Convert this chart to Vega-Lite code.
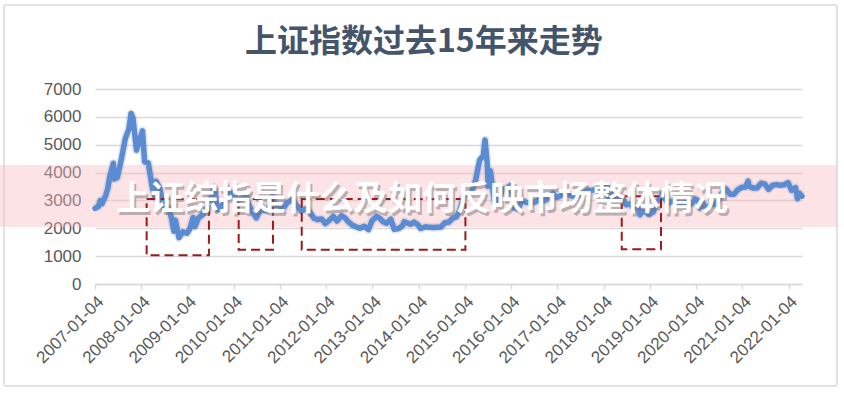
{
  "$schema": "https://vega.github.io/schema/vega-lite/v6.json",
  "width": 707,
  "height": 195,
  "autosize": {"type": "none"},
  "padding": {"left": 95, "top": 89, "right": 42, "bottom": 109},
  "background": "white",
  "config": {"view": {"stroke": null}},
  "datasets": {
    "frame": [{"x1": "2005-01-15", "x2": "2023-01-21", "y1": -3662, "y2": 10015}],
    "band": [{"x1": "2004-12-01", "x2": "2023-01-21", "y1": 2046, "y2": 4272}],
    "heading": [{"date": "2014-02-13", "value": 8690, "text": "上证指数过去15年来走势"}],
    "boxes": [
      {"x1": "2008-02-16", "x2": "2009-06-22", "y1": 1030, "y2": 3051},
      {"x1": "2010-02-12", "x2": "2010-11-10", "y1": 1231, "y2": 3051},
      {"x1": "2011-06-25", "x2": "2015-01-08", "y1": 1231, "y2": 3051},
      {"x1": "2018-05-27", "x2": "2019-04-02", "y1": 1245, "y2": 3150}
    ],
    "label": [{"date": "2014-01-30", "value": 3015, "text": "上证综指是什么及如何反映市场整体情况"}],
    "sse": [
      {"date": "2007-01-04", "close": 2715},
      {"date": "2007-01-31", "close": 2786},
      {"date": "2007-02-15", "close": 2998},
      {"date": "2007-02-28", "close": 2881},
      {"date": "2007-03-30", "close": 3183},
      {"date": "2007-04-16", "close": 3450},
      {"date": "2007-04-30", "close": 3841},
      {"date": "2007-05-29", "close": 4335},
      {"date": "2007-06-05", "close": 3767},
      {"date": "2007-06-29", "close": 3820},
      {"date": "2007-07-31", "close": 4471},
      {"date": "2007-08-31", "close": 5218},
      {"date": "2007-09-28", "close": 5552},
      {"date": "2007-10-16", "close": 6124},
      {"date": "2007-10-31", "close": 5955},
      {"date": "2007-11-28", "close": 4803},
      {"date": "2007-12-28", "close": 5262},
      {"date": "2008-01-14", "close": 5497},
      {"date": "2008-01-31", "close": 4383},
      {"date": "2008-02-29", "close": 4348},
      {"date": "2008-03-31", "close": 3473},
      {"date": "2008-04-22", "close": 3116},
      {"date": "2008-04-30", "close": 3693},
      {"date": "2008-05-30", "close": 3433},
      {"date": "2008-06-30", "close": 2736},
      {"date": "2008-07-31", "close": 2775},
      {"date": "2008-08-29", "close": 2397},
      {"date": "2008-09-18", "close": 1895},
      {"date": "2008-09-30", "close": 2293},
      {"date": "2008-10-28", "close": 1665},
      {"date": "2008-11-28", "close": 1871},
      {"date": "2008-12-31", "close": 1821},
      {"date": "2009-01-23", "close": 1990},
      {"date": "2009-02-17", "close": 2389},
      {"date": "2009-03-03", "close": 2058},
      {"date": "2009-03-31", "close": 2373},
      {"date": "2009-04-30", "close": 2477},
      {"date": "2009-05-27", "close": 2633},
      {"date": "2009-06-30", "close": 2959},
      {"date": "2009-08-04", "close": 3471},
      {"date": "2009-08-31", "close": 2667},
      {"date": "2009-09-30", "close": 2779},
      {"date": "2009-10-30", "close": 2996},
      {"date": "2009-11-24", "close": 3338},
      {"date": "2009-12-31", "close": 3277},
      {"date": "2010-01-29", "close": 2989},
      {"date": "2010-02-26", "close": 3051},
      {"date": "2010-03-31", "close": 3110},
      {"date": "2010-04-15", "close": 3166},
      {"date": "2010-04-30", "close": 2871},
      {"date": "2010-05-31", "close": 2592},
      {"date": "2010-07-02", "close": 2373},
      {"date": "2010-07-30", "close": 2638},
      {"date": "2010-08-31", "close": 2639},
      {"date": "2010-09-30", "close": 2656},
      {"date": "2010-11-08", "close": 3159},
      {"date": "2010-11-30", "close": 2820},
      {"date": "2010-12-31", "close": 2808},
      {"date": "2011-01-25", "close": 2677},
      {"date": "2011-02-28", "close": 2905},
      {"date": "2011-04-18", "close": 3057},
      {"date": "2011-04-29", "close": 2911},
      {"date": "2011-05-31", "close": 2743},
      {"date": "2011-06-20", "close": 2621},
      {"date": "2011-07-29", "close": 2701},
      {"date": "2011-08-31", "close": 2568},
      {"date": "2011-09-30", "close": 2359},
      {"date": "2011-10-24", "close": 2317},
      {"date": "2011-11-30", "close": 2333},
      {"date": "2011-12-28", "close": 2170},
      {"date": "2012-01-31", "close": 2292},
      {"date": "2012-02-29", "close": 2428},
      {"date": "2012-03-30", "close": 2262},
      {"date": "2012-05-04", "close": 2452},
      {"date": "2012-05-31", "close": 2373},
      {"date": "2012-06-29", "close": 2225},
      {"date": "2012-07-31", "close": 2103},
      {"date": "2012-08-31", "close": 2047},
      {"date": "2012-09-26", "close": 2004},
      {"date": "2012-10-31", "close": 2069},
      {"date": "2012-12-03", "close": 1949},
      {"date": "2012-12-31", "close": 2269},
      {"date": "2013-02-06", "close": 2434},
      {"date": "2013-02-28", "close": 2366},
      {"date": "2013-03-29", "close": 2237},
      {"date": "2013-04-26", "close": 2178},
      {"date": "2013-05-29", "close": 2324},
      {"date": "2013-06-25", "close": 1959},
      {"date": "2013-07-31", "close": 1994},
      {"date": "2013-08-30", "close": 2098},
      {"date": "2013-09-12", "close": 2237},
      {"date": "2013-10-31", "close": 2142},
      {"date": "2013-11-29", "close": 2220},
      {"date": "2013-12-31", "close": 2116},
      {"date": "2014-01-20", "close": 1991},
      {"date": "2014-02-28", "close": 2056},
      {"date": "2014-03-31", "close": 2033},
      {"date": "2014-04-30", "close": 2026},
      {"date": "2014-05-30", "close": 2039},
      {"date": "2014-06-30", "close": 2048},
      {"date": "2014-07-31", "close": 2202},
      {"date": "2014-08-29", "close": 2217},
      {"date": "2014-09-30", "close": 2364},
      {"date": "2014-10-31", "close": 2420},
      {"date": "2014-11-28", "close": 2683},
      {"date": "2014-12-31", "close": 3235},
      {"date": "2015-01-30", "close": 3210},
      {"date": "2015-02-27", "close": 3310},
      {"date": "2015-03-31", "close": 3748},
      {"date": "2015-04-30", "close": 4442},
      {"date": "2015-05-29", "close": 4612},
      {"date": "2015-06-12", "close": 5166},
      {"date": "2015-06-30", "close": 4277},
      {"date": "2015-07-08", "close": 3507},
      {"date": "2015-07-24", "close": 4070},
      {"date": "2015-08-26", "close": 2927},
      {"date": "2015-09-30", "close": 3053},
      {"date": "2015-10-30", "close": 3383},
      {"date": "2015-11-30", "close": 3445},
      {"date": "2015-12-31", "close": 3539},
      {"date": "2016-01-28", "close": 2735},
      {"date": "2016-02-29", "close": 2688},
      {"date": "2016-03-31", "close": 3004},
      {"date": "2016-04-29", "close": 2938},
      {"date": "2016-05-31", "close": 2917},
      {"date": "2016-06-30", "close": 2930},
      {"date": "2016-07-29", "close": 2979},
      {"date": "2016-08-31", "close": 3085},
      {"date": "2016-09-30", "close": 3005},
      {"date": "2016-10-31", "close": 3100},
      {"date": "2016-11-30", "close": 3250},
      {"date": "2016-12-30", "close": 3104},
      {"date": "2017-01-26", "close": 3159},
      {"date": "2017-02-28", "close": 3242},
      {"date": "2017-03-31", "close": 3223},
      {"date": "2017-04-28", "close": 3155},
      {"date": "2017-05-31", "close": 3117},
      {"date": "2017-06-30", "close": 3192},
      {"date": "2017-07-31", "close": 3273},
      {"date": "2017-08-31", "close": 3361},
      {"date": "2017-09-29", "close": 3349},
      {"date": "2017-10-31", "close": 3393},
      {"date": "2017-11-30", "close": 3317},
      {"date": "2017-12-29", "close": 3307},
      {"date": "2018-01-29", "close": 3523},
      {"date": "2018-02-09", "close": 3129},
      {"date": "2018-02-28", "close": 3259},
      {"date": "2018-03-30", "close": 3169},
      {"date": "2018-04-27", "close": 3082},
      {"date": "2018-05-31", "close": 3095},
      {"date": "2018-06-29", "close": 2847},
      {"date": "2018-07-31", "close": 2876},
      {"date": "2018-08-31", "close": 2725},
      {"date": "2018-09-28", "close": 2821},
      {"date": "2018-10-18", "close": 2486},
      {"date": "2018-10-31", "close": 2603},
      {"date": "2018-11-30", "close": 2588},
      {"date": "2018-12-28", "close": 2494},
      {"date": "2019-01-31", "close": 2585},
      {"date": "2019-02-28", "close": 2941},
      {"date": "2019-03-29", "close": 3091},
      {"date": "2019-04-19", "close": 3270},
      {"date": "2019-04-30", "close": 3078},
      {"date": "2019-05-31", "close": 2899},
      {"date": "2019-06-28", "close": 2979},
      {"date": "2019-07-31", "close": 2933},
      {"date": "2019-08-30", "close": 2886},
      {"date": "2019-09-30", "close": 2905},
      {"date": "2019-10-31", "close": 2929},
      {"date": "2019-11-29", "close": 2871},
      {"date": "2019-12-31", "close": 3050},
      {"date": "2020-01-23", "close": 2976},
      {"date": "2020-02-03", "close": 2746},
      {"date": "2020-02-28", "close": 2880},
      {"date": "2020-03-23", "close": 2660},
      {"date": "2020-03-31", "close": 2750},
      {"date": "2020-04-30", "close": 2860},
      {"date": "2020-05-29", "close": 2852},
      {"date": "2020-06-30", "close": 2985},
      {"date": "2020-07-31", "close": 3310},
      {"date": "2020-08-31", "close": 3396},
      {"date": "2020-09-30", "close": 3218},
      {"date": "2020-10-30", "close": 3225},
      {"date": "2020-11-30", "close": 3392},
      {"date": "2020-12-31", "close": 3473},
      {"date": "2021-01-29", "close": 3483},
      {"date": "2021-02-18", "close": 3696},
      {"date": "2021-02-26", "close": 3509},
      {"date": "2021-03-31", "close": 3442},
      {"date": "2021-04-30", "close": 3447},
      {"date": "2021-05-31", "close": 3615},
      {"date": "2021-06-30", "close": 3591},
      {"date": "2021-07-30", "close": 3397},
      {"date": "2021-08-31", "close": 3544},
      {"date": "2021-09-30", "close": 3568},
      {"date": "2021-10-29", "close": 3547},
      {"date": "2021-11-30", "close": 3564},
      {"date": "2021-12-31", "close": 3640},
      {"date": "2022-01-28", "close": 3361},
      {"date": "2022-02-28", "close": 3462},
      {"date": "2022-03-15", "close": 3064},
      {"date": "2022-03-31", "close": 3253},
      {"date": "2022-04-20", "close": 3151}
    ]
  },
  "layer": [
    {
      "data": {"name": "frame"},
      "mark": {"type": "rect", "fill": null, "stroke": "#d9d9d9", "strokeWidth": 1.5, "cornerRadius": 2, "clip": false},
      "encoding": {
        "x": {"field": "x1", "type": "temporal", "scale": {"type": "utc", "domain": [{"year": 2007, "month": 1, "date": 4, "utc": true}, {"year": 2022, "month": 4, "date": 20, "utc": true}]},
          "axis": {
            "values": [
              {"year": 2007, "month": 1, "date": 4, "utc": true}, {"year": 2008, "month": 1, "date": 4, "utc": true},
              {"year": 2009, "month": 1, "date": 4, "utc": true}, {"year": 2010, "month": 1, "date": 4, "utc": true},
              {"year": 2011, "month": 1, "date": 4, "utc": true}, {"year": 2012, "month": 1, "date": 4, "utc": true},
              {"year": 2013, "month": 1, "date": 4, "utc": true}, {"year": 2014, "month": 1, "date": 4, "utc": true},
              {"year": 2015, "month": 1, "date": 4, "utc": true}, {"year": 2016, "month": 1, "date": 4, "utc": true},
              {"year": 2017, "month": 1, "date": 4, "utc": true}, {"year": 2018, "month": 1, "date": 4, "utc": true},
              {"year": 2019, "month": 1, "date": 4, "utc": true}, {"year": 2020, "month": 1, "date": 4, "utc": true},
              {"year": 2021, "month": 1, "date": 4, "utc": true}, {"year": 2022, "month": 1, "date": 4, "utc": true}
            ],
            "format": "%Y-%m-%d",
            "title": null,
            "grid": false,
            "domain": true,
            "domainColor": "#d9d9d9",
            "domainWidth": 1.5,
            "ticks": true,
            "tickColor": "#d9d9d9",
            "tickWidth": 1.5,
            "tickSize": 5,
            "labelAngle": -45,
            "labelFont": "Liberation Sans",
            "labelFontSize": 17,
            "labelColor": "#595959",
            "labelPadding": 4,
            "labelOverlap": false,
            "labelBound": false,
            "labelFlush": false
          }
        },
        "x2": {"field": "x2"},
        "y": {"field": "y1", "type": "quantitative", "scale": {"domain": [0, 7000], "nice": false, "zero": true},
          "axis": {
            "values": [0, 1000, 2000, 3000, 4000, 5000, 6000, 7000],
            "tickCount": 8,
            "format": "d",
            "title": null,
            "grid": true,
            "gridColor": "#d9d9d9",
            "gridWidth": 1.5,
            "domain": false,
            "ticks": false,
            "labelOverlap": false,
            "labelFont": "Liberation Sans",
            "labelFontSize": 17,
            "labelColor": "#595959",
            "labelPadding": 14
          }
        },
        "y2": {"field": "y2"}
      }
    },
    {
      "data": {"name": "heading"},
      "mark": {"type": "text", "font": "Noto Sans CJK SC", "fontSize": 32, "fontWeight": "bold", "fill": "#44546a", "align": "center", "baseline": "middle", "clip": false},
      "encoding": {
        "x": {"field": "date", "type": "temporal"},
        "y": {"field": "value", "type": "quantitative"},
        "text": {"field": "text"}
      }
    },
    {
      "data": {"name": "band"},
      "mark": {"type": "rect", "fill": "#f7b9c1", "opacity": 0.4, "clip": false},
      "encoding": {
        "x": {"field": "x1", "type": "temporal"},
        "x2": {"field": "x2"},
        "y": {"field": "y1", "type": "quantitative"},
        "y2": {"field": "y2"}
      }
    },
    {
      "data": {"name": "sse"},
      "mark": {"type": "line", "stroke": "#8d9cb5", "strokeWidth": 8.5, "opacity": 0.25, "strokeJoin": "round"},
      "encoding": {
        "x": {"field": "date", "type": "temporal"},
        "y": {"field": "close", "type": "quantitative"}
      }
    },
    {
      "data": {"name": "sse"},
      "mark": {"type": "line", "stroke": "#5b8bd3", "strokeWidth": 5.5, "strokeJoin": "round", "strokeCap": "round"},
      "encoding": {
        "x": {"field": "date", "type": "temporal"},
        "y": {"field": "close", "type": "quantitative",
          "axis": {
            "values": [0, 1000, 2000, 3000, 4000, 5000, 6000, 7000],
            "tickCount": 8,
            "format": "d",
            "title": null,
            "grid": true,
            "gridColor": "#d9d9d9",
            "gridWidth": 1.5,
            "domain": false,
            "ticks": false,
            "labelOverlap": false,
            "labelFont": "Liberation Sans",
            "labelFontSize": 17,
            "labelColor": "#595959",
            "labelPadding": 14
          }
        }
      }
    },
    {
      "data": {"name": "boxes"},
      "mark": {"type": "rect", "fill": null, "stroke": "#9b1b1b", "strokeWidth": 2, "strokeDash": [9, 5], "clip": false},
      "encoding": {
        "x": {"field": "x1", "type": "temporal"},
        "x2": {"field": "x2"},
        "y": {"field": "y1", "type": "quantitative"},
        "y2": {"field": "y2"}
      }
    },
    {
      "data": {"name": "label"},
      "mark": {"type": "text", "font": "Noto Sans CJK SC", "fontSize": 34, "fontWeight": "bold", "fill": "#6f6f6f", "opacity": 0.45, "dx": 2, "dy": 3, "align": "center", "baseline": "middle", "clip": false},
      "encoding": {
        "x": {"field": "date", "type": "temporal"},
        "y": {"field": "value", "type": "quantitative"},
        "text": {"field": "text"}
      }
    },
    {
      "data": {"name": "label"},
      "mark": {"type": "text", "font": "Noto Sans CJK SC", "fontSize": 34, "fontWeight": "bold", "fill": "white", "align": "center", "baseline": "middle", "clip": false},
      "encoding": {
        "x": {"field": "date", "type": "temporal"},
        "y": {"field": "value", "type": "quantitative"},
        "text": {"field": "text"}
      }
    }
  ]
}
